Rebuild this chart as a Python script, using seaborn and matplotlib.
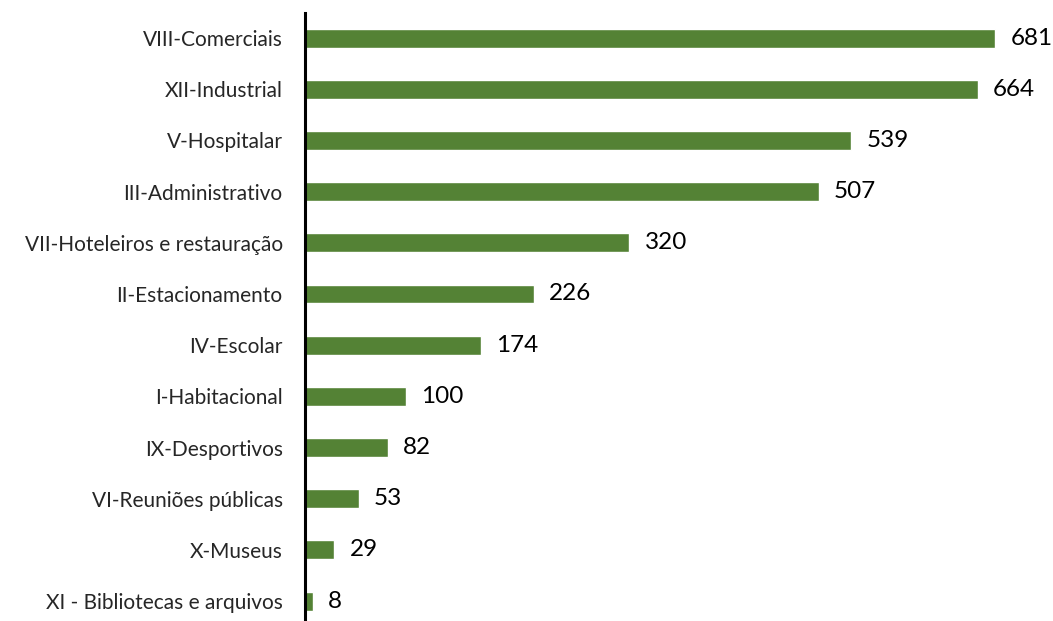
import seaborn as sns
import matplotlib.pyplot as plt
import pandas as pd

categories = ['VIII-Comerciais', 'XII-Industrial', 'V-Hospitalar', 'III-Administrativo',
              'VII-Hoteleiros e restauração', 'II-Estacionamento', 'IV-Escolar',
              'I-Habitacional', 'IX-Desportivos', 'VI-Reuniões públicas', 'X-Museus',
              'XI - Bibliotecas e arquivos']
values = [681, 664, 539, 507, 320, 226, 174, 100, 82, 53, 29, 8]

df = pd.DataFrame({'cat': categories, 'val': values})

sns.set_style('white')
plt.rcParams['font.family'] = ['Lato', 'DejaVu Sans']

fig = plt.figure(figsize=(10.53, 6.21), dpi=100)
ax = fig.add_axes([0.2896, 0.0, 0.7104, 0.979])
sns.barplot(data=df, y='cat', x='val', orient='h', color='#548235',
            width=0.37, saturation=1, ax=ax)

for i, v in enumerate(values):
    ax.text(v + 15, i, str(v), va='center', ha='left', fontsize=17.5, color='black')

ax.set_xlim(0, 738)
ax.set_ylim(11.39, -0.49)
ax.set_xlabel('')
ax.set_ylabel('')
ax.set_xticks([])
ax.tick_params(axis='y', length=0, pad=16, labelsize=15)
for s in ['top', 'right', 'bottom']:
    ax.spines[s].set_visible(False)
ax.spines['left'].set_color('black')
ax.spines['left'].set_linewidth(2.2)

fig.savefig('out.png', dpi=100)
